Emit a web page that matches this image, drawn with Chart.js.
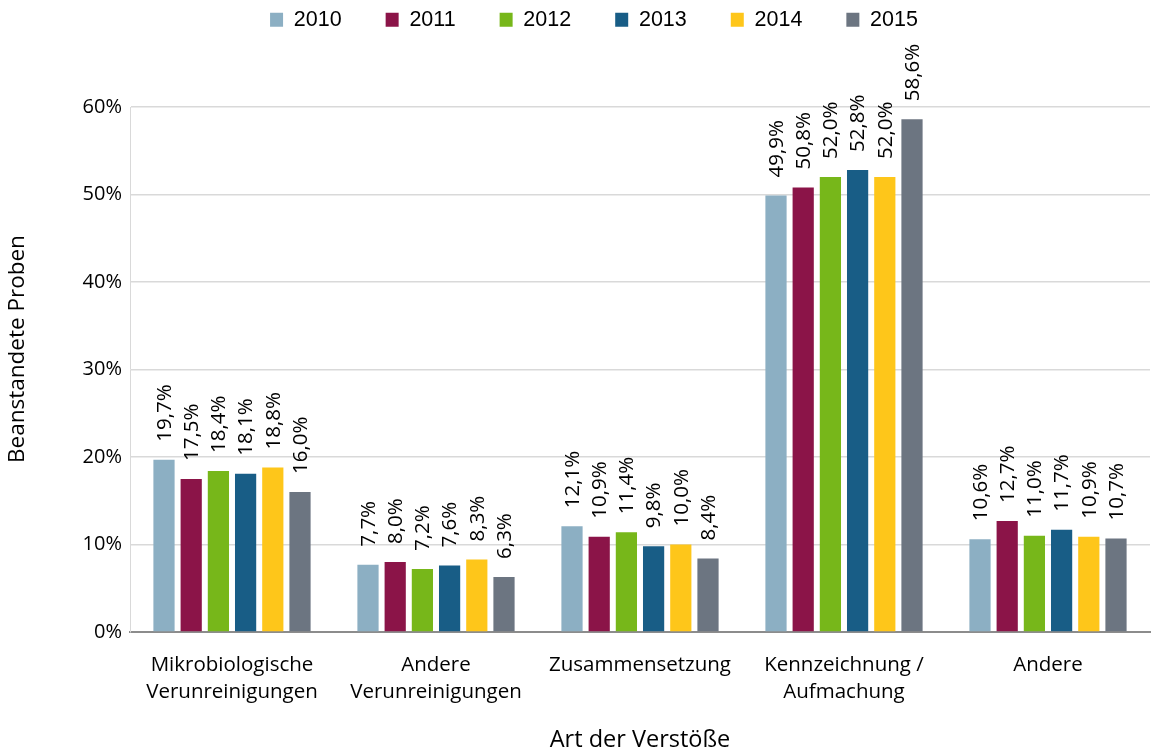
<!DOCTYPE html>
<html>
<head>
<meta charset="utf-8">
<script src="https://cdn.jsdelivr.net/npm/chart.js@4/dist/chart.umd.min.js"></script>
<style>
  body { margin: 0; background: #fff; }
  #wrap { width: 1158px; height: 751px; }
</style>
</head>
<body>
<div id="wrap"><canvas id="js-chart"></canvas></div>
<script>
const categories = [
  ["Mikrobiologische", "Verunreinigungen"],
  ["Andere", "Verunreinigungen"],
  "Zusammensetzung",
  ["Kennzeichnung /", "Aufmachung"],
  "Andere",
];
const years = ["2010", "2011", "2012", "2013", "2014", "2015"];
const colors = ["#8CAFC3", "#8B1448", "#77B71A", "#185D86", "#FEC61A", "#6C7581"];

const values2010 = [19.7, 7.7, 12.1, 49.9, 10.6];
const values2011 = [17.5, 8.0, 10.9, 50.8, 12.7];
const values2012 = [18.4, 7.2, 11.4, 52.0, 11.0];
const values2013 = [18.1, 7.6, 9.8, 52.8, 11.7];
const values2014 = [18.8, 8.3, 10.0, 52.0, 10.9];
const values2015 = [16.0, 6.3, 8.4, 58.6, 10.7];
const allValues = [values2010, values2011, values2012, values2013, values2014, values2015];

const FONT = "'Open Sans', sans-serif";

function formatPct(v) {
  return v.toFixed(1).replace(".", ",") + "%";
}

// labels drawn vertically above each bar
const barLabels = {
  id: "barLabels",
  afterDatasetsDraw(chart) {
    const ctx = chart.ctx;
    ctx.save();
    ctx.fillStyle = "#000";
    ctx.font = "20.5px " + FONT;
    ctx.textAlign = "left";
    ctx.textBaseline = "middle";
    chart.data.datasets.forEach((ds, i) => {
      chart.getDatasetMeta(i).data.forEach((bar, j) => {
        ctx.save();
        ctx.translate(bar.x + 1, bar.y - 18);
        ctx.rotate(-Math.PI / 2);
        ctx.fillText(formatPct(ds.data[j]), 0, 0);
        ctx.restore();
      });
    });
    ctx.restore();
  },
};

// more room between legend and plot, legend a bit to the right
const legendSpacing = {
  id: "legendSpacing",
  beforeInit(chart) {
    const fitLegend = chart.legend.fit;
    chart.legend.fit = function () {
      fitLegend.bind(chart.legend)();
      this.height = 142;
    };
  },
  afterLayout(chart) {
    chart.legend.left += 19;
    chart.legend.right += 19;
  },
};

function drawChart() {
  const context = document.getElementById("js-chart").getContext("2d");

  new Chart(context, {
    type: "bar",
    data: {
      labels: categories,
      datasets: years.map((y, i) => ({
        label: y,
        data: allValues[i],
        backgroundColor: colors[i],
        categoryPercentage: 0.8,
        barPercentage: 0.78,
      })),
    },
    options: {
      responsive: true,
      maintainAspectRatio: false,
      animation: false,
      layout: { padding: { top: -35, right: 8, left: 0, bottom: 0 } },
      plugins: {
        tooltip: { enabled: false },
        legend: {
          position: "top",
          labels: {
            boxWidth: 13,
            boxHeight: 14,
            padding: 44,
            color: "#000",
            font: { family: "'Liberation Sans', Arial, sans-serif", size: 21.5 },
          },
        },
      },
      scales: {
        x: {
          grid: { display: false },
          border: { color: "#8C8C8C", width: 2 },
          ticks: {
            color: "#000",
            padding: 12,
            font: { family: FONT, size: 20.5, lineHeight: 1.32 },
            maxRotation: 0,
          },
          title: {
            display: true,
            text: "Art der Verstöße",
            color: "#000",
            padding: { top: 4, bottom: 0 },
            font: { family: FONT, size: 23.5, lineHeight: 0.9 },
          },
          afterFit(scale) {
            scale.height = 119;
          },
        },
        y: {
          min: 0,
          max: 60,
          ticks: {
            stepSize: 10,
            color: "#000",
            padding: 8,
            font: { family: FONT, size: 20 },
            callback: function (value) {
              return value + "%";
            },
          },
          grid: { color: "#D9D9D9", lineWidth: 1.5, drawTicks: false },
          border: { color: "#D9D9D9" },
          title: {
            display: true,
            text: "       Beanstandete Proben",
            color: "#000",
            padding: { bottom: 4 },
            font: { family: FONT, size: 22.5 },
          },
          afterFit(scale) {
            scale.width = 130;
          },
        },
      },
    },
    plugins: [barLabels, legendSpacing],
  });
}

drawChart();
</script>
</body>
</html>
